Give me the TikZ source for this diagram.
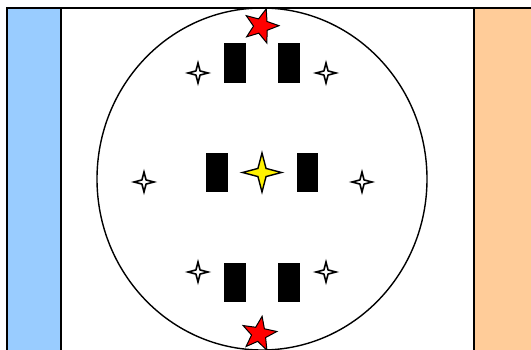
\documentclass[tikz,border=0pt]{standalone}
\usetikzlibrary{shapes.geometric}
\tikzset{
  bar/.style={draw=black, fill=black, minimum width=20pt, minimum height=38pt, inner sep=0pt},
  spark/.style={draw=black, line width=1.6pt, fill=white, star, star points=4, star point ratio=3.4, minimum size=20pt, inner sep=0pt},
  redstar/.style={draw=black, line width=1pt, fill=red, star, star points=5, star point ratio=2.4, minimum size=36pt, inner sep=0pt},
}
\begin{document}
\begin{tikzpicture}[x=1pt, y=-1pt, line width=1.4pt]
    \useasboundingbox (0,0) rectangle (531,350);
    \clip (0,0) rectangle (531,350);
    % Рамка и полосы
    \draw[fill=white] (7,8) rectangle (545,365);
    \draw[fill={rgb,255:red,153;green,204;blue,255}] (7,8) rectangle (61,365);
    \draw[fill={rgb,255:red,255;green,204;blue,153}] (474,8) rectangle (545,365);
    % Эллипс
    \draw (262,179) ellipse [x radius=165pt, y radius=171pt];
    % Прямоугольники
    \node[bar] (tl) at (235,63) {};
    \node[bar] (tr) at (289,63) {};
    \node[bar] (ml) at (217,172.5) {};
    \node[bar] (mr) at (307.5,172.5) {};
    \node[bar] (bl) at (235,282.5) {};
    \node[bar] (br) at (289,282.5) {};
    % Звёздочки
    \node[spark] (s1) at (198,73) {};
    \node[spark] (s2) at (326,73) {};
    \node[spark] (s3) at (144,182) {};
    \node[spark] (s4) at (362,182) {};
    \node[spark] (s5) at (198,272) {};
    \node[spark] (s6) at (326,272) {};
    \node[spark, fill=yellow, line width=1.4pt, minimum size=39pt] (c) at (262,172.5) {};
    % Красные звёзды
    \node[redstar, rotate=-17] (top) at (261,26) {};
    \node[redstar, rotate=-10] (bot) at (259,334) {};
\end{tikzpicture}
\end{document}
